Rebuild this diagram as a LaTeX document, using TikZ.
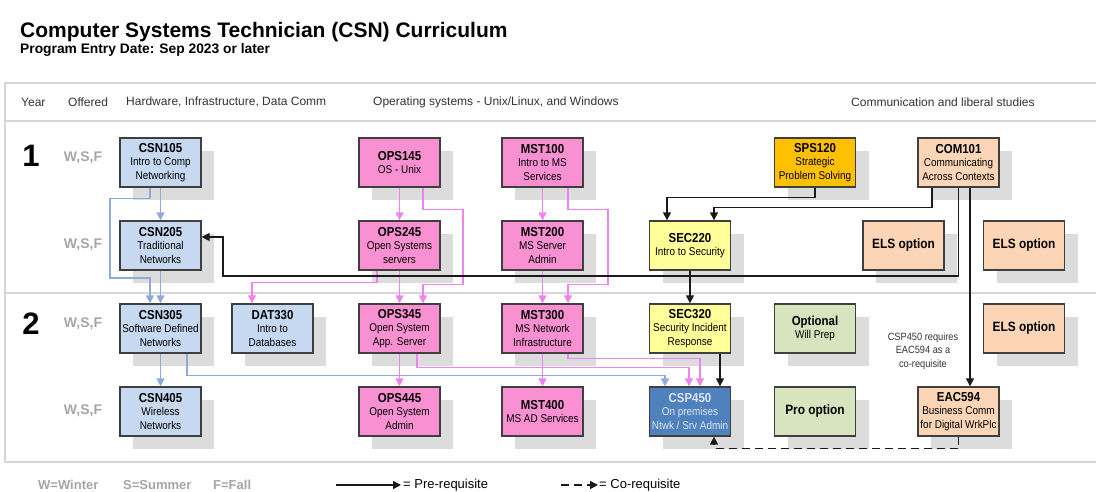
\documentclass[tikz,border=0pt]{standalone}
\usepackage{fontspec}
\setmainfont{Liberation Sans}
\newfontfamily\narrowf[FakeStretch=0.88]{Liberation Sans}
\usetikzlibrary{arrows.meta}
\definecolor{bordc}{HTML}{3F3F3F}
\definecolor{shadowc}{HTML}{DCDCDC}
\definecolor{frameC}{HTML}{D6D6D6}
\definecolor{blueF}{HTML}{C6D9F1}
\definecolor{pinkF}{HTML}{F990D2}
\definecolor{yellowF}{HTML}{FFFF99}
\definecolor{goldF}{HTML}{FFC000}
\definecolor{peachF}{HTML}{FBD5B5}
\definecolor{greenF}{HTML}{D7E4BD}
\definecolor{steelF}{HTML}{4F81BD}
\definecolor{steelT}{HTML}{DCE6F2}
\definecolor{blueL}{HTML}{8EAADB}
\definecolor{pinkL}{HTML}{EE82EE}
\definecolor{blackL}{HTML}{1A1A1A}
\definecolor{grayT}{HTML}{A6A6A6}
\definecolor{headT}{HTML}{333333}
\tikzset{
  course/.style={draw=bordc, line width=1.4pt, minimum width=81pt, minimum height=49pt,
    inner sep=0pt, align=center, text=black, font=\fontsize{11.3}{13.3}\selectfont\narrowf},
  cblue/.style={course, fill=blueF},
  cpink/.style={course, fill=pinkF},
  cyellow/.style={course, fill=yellowF},
  cgold/.style={course, fill=goldF},
  cpeach/.style={course, fill=peachF},
  cgreen/.style={course, fill=greenF},
  csteel/.style={course, fill=steelF, text=steelT},
  conn/.style={line width=1.5pt, -{Triangle[length=8pt,width=8pt]}},
  bluec/.style={conn, draw=blueL},
  pinkc/.style={conn, draw=pinkL},
  blackc/.style={conn, draw=blackL},
  coreq/.style={conn, draw=blackL, dash pattern=on 8pt off 5pt},
  framel/.style={draw=frameC, line width=2pt},
  headtxt/.style={anchor=west, text=headT, font=\fontsize{12}{14}\selectfont, inner sep=0pt},
  wsf/.style={text=grayT, font=\fontsize{14}{14}\selectfont\bfseries, inner sep=0pt},
  yearnum/.style={font=\fontsize{31}{31}\selectfont\bfseries, inner sep=0pt},
  legtxt/.style={anchor=west, inner sep=0pt, font=\fontsize{13}{14}\selectfont},
}
\newcommand\ct[1]{{\fontsize{13}{13}\selectfont\bfseries #1}}
\newcommand\cbig[1]{{\fontsize{13.5}{14}\selectfont\bfseries #1}}
\newcommand\crs[5]{%
  \fill[shadowc] (#2-27.5,#3-11.5) rectangle (#2+53.5,#3+37.5);
  \node[#4] (#1) at (#2,#3) {#5};}
\begin{document}
\begin{tikzpicture}[x=1pt,y=-1pt]
\useasboundingbox (0,0) rectangle (1096,492);
\fill[white] (0,0) rectangle (1096,492);
% title
\node[anchor=base west, inner sep=0pt, font=\fontsize{21}{22}\selectfont\bfseries] (title) at (20,38) {Computer Systems Technician (CSN) Curriculum};
\node[anchor=base west, inner sep=0pt, font=\fontsize{13.8}{14}\selectfont\bfseries] (subtitle) at (20,54) {Program Entry Date: Sep 2023 or later};
% frame
\draw[framel] (1096,83) -- (5,83) -- (5,462) -- (1096,462);
\draw[framel] (5,121) -- (1096,121);
\draw[framel] (5,293) -- (1096,293);
% headers
\node[headtxt] (hYear) at (21,102) {Year};
\node[headtxt] (hOff) at (68,102) {Offered};
\node[headtxt] (hHw) at (126,102) {Hardware, Infrastructure, Data Comm};
\node[headtxt] (hOs) at (373,102) {Operating systems - Unix/Linux, and Windows};
\node[headtxt] (hCom) at (851,102) {Communication and liberal studies};
% year numbers and offered
\node[yearnum] (y1) at (31,156) {1};
\node[yearnum] (y2) at (31,324) {2};
\node[wsf] (w1) at (83,158) {W,S,F};
\node[wsf] (w2) at (83,245) {W,S,F};
\node[wsf] (w3) at (83,324) {W,S,F};
\node[wsf] (w4) at (83,411) {W,S,F};
% courses
\def\ra{162.5}\def\rb{245.5}\def\rc{328.5}\def\rd{411.5}
\crs{c105}{160.5}{\ra}{cblue}{\ct{CSN105}\\Intro to Comp\\Networking}
\crs{c205}{160.5}{\rb}{cblue}{\ct{CSN205}\\Traditional\\Networks}
\crs{c305}{160.5}{\rc}{cblue}{\ct{CSN305}\\Software Defined\\Networks}
\crs{c405}{160.5}{\rd}{cblue}{\ct{CSN405}\\Wireless\\Networks}
\crs{dat}{272.5}{\rc}{cblue}{\ct{DAT330}\\Intro to\\Databases}
\crs{o145}{399.5}{\ra}{cpink}{\ct{OPS145}\\OS - Unix}
\crs{o245}{399.5}{\rb}{cpink}{\ct{OPS245}\\Open Systems\\servers}
\crs{o345}{399.5}{\rc}{cpink}{\ct{OPS345}\\Open System\\App. Server}
\crs{o445}{399.5}{\rd}{cpink}{\ct{OPS445}\\Open System\\Admin}
\crs{m100}{542.5}{\ra}{cpink}{\ct{MST100}\\Intro to MS\\Services}
\crs{m200}{542.5}{\rb}{cpink}{\ct{MST200}\\MS Server\\Admin}
\crs{m300}{542.5}{\rc}{cpink}{\ct{MST300}\\MS Network\\Infrastructure}
\crs{m400}{542.5}{\rd}{cpink}{\ct{MST400}\\MS AD Services}
\crs{s220}{690}{\rb}{cyellow}{\ct{SEC220}\\Intro to Security}
\crs{s320}{690}{\rc}{cyellow}{\ct{SEC320}\\Security Incident\\Response}
\crs{csp}{690}{\rd}{csteel}{\ct{CSP450}\\On premises\\Ntwk / Srv Admin}
\crs{sps}{815}{\ra}{cgold}{\ct{SPS120}\\Strategic\\Problem Solving}
\crs{opt}{815}{\rc}{cgreen}{\ct{Optional}\\Will Prep}
\crs{pro}{815}{\rd}{cgreen}{\cbig{Pro option}}
\crs{com}{958.5}{\ra}{cpeach}{\ct{COM101}\\Communicating\\Across Contexts}
\crs{els1}{903.5}{\rb}{cpeach}{\cbig{ELS option}}
\crs{els2}{1024}{\rb}{cpeach}{\cbig{ELS option}}
\crs{els3}{1024}{\rc}{cpeach}{\cbig{ELS option}}
\crs{eac}{958.5}{\rd}{cpeach}{\ct{EAC594}\\Business Comm\\for Digital WrkPlc}
% note
\node[align=center, inner sep=0pt, text=headT, font=\fontsize{10.5}{13.5}\selectfont\narrowf] (note) at (923,351) {CSP450 requires\\EAC594 as a\\co-requisite};
% blue connectors
\draw[bluec] (c105) -- (c205);
\draw[bluec] ([xshift=-10.5pt]c105.south) -- ++(0,11) -- ++(-40,0) |- (150,278) -- ([xshift=-10.5pt]c305.north);
\draw[bluec] (c205) -- (c305);
\draw[bluec] (c305) -- (c405);
\draw[bluec] ([xshift=26.5pt]c305.south) -- ++(0,22) -| ([xshift=-25pt]csp.north);
% pink connectors
\draw[pinkc] (o145) -- (o245);
\draw[pinkc] ([xshift=23.5pt]o145.south) -- ++(0,22) -- ++(40,0) -- ++(0,75) -| ([xshift=23.5pt]o345.north);
\draw[pinkc] (o245) -- (o345);
\draw[pinkc] ([xshift=-22.5pt]o245.south) -- ++(0,12) -| ([xshift=-20.5pt]dat.north);
\draw[pinkc] (m100) -- (m200);
\draw[pinkc] ([xshift=25.5pt]m100.south) -- ++(0,22) -- ++(40,0) -- ++(0,75) -| ([xshift=25.5pt]m300.north);
\draw[pinkc] (m200) -- (m300);
\draw[pinkc] (m300) -- (m400);
\draw[pinkc] (o345) -- (o445);
\draw[pinkc] ([xshift=17.5pt]o345.south) -- ++(0,14) -| ([xshift=-1pt]csp.north);
\draw[pinkc] ([xshift=25.5pt]m300.south) -- ++(0,5) -| ([xshift=10pt]csp.north);
% black connectors
\draw[blackc] (s220) -- (s320);
\draw[blackc] ([xshift=30pt]s320.south) -- ([xshift=30pt]csp.north);
\draw[blackc] (sps.south) -- ++(0,10) -| ([xshift=-23pt]s220.north);
\draw[blackc] ([xshift=-26.5pt]com.south) -- ++(0,20) -| ([xshift=24pt]s220.north);
\draw[blackc] (com.south) |- (223,276) |- ([yshift=8.5pt]c205.east);
\draw[blackc] ([xshift=11.5pt]com.south) -- ([xshift=11.5pt]eac.north);
\draw[coreq] (eac.south) -- ++(0,12) -| ([xshift=24pt]csp.south);
% legend
\node[anchor=west, inner sep=0pt, text=grayT, font=\fontsize{13}{14}\selectfont\bfseries] (lw) at (38,485) {W=Winter};
\node[anchor=west, inner sep=0pt, text=grayT, font=\fontsize{13}{14}\selectfont\bfseries] (ls) at (123,485) {S=Summer};
\node[anchor=west, inner sep=0pt, text=grayT, font=\fontsize{13}{14}\selectfont\bfseries] (lf) at (213,485) {F=Fall};
\coordinate (lgA) at (336,485);
\node[legtxt] (lpre) at (403,485) {= Pre-requisite};
\draw[blackc] (lgA) -- ([xshift=-2pt]lpre.west);
\coordinate (lgC) at (561,485);
\node[legtxt] (lco) at (599,485) {= Co-requisite};
\draw[coreq] (lgC) -- ([xshift=-1pt]lco.west);
\end{tikzpicture}
\end{document}
